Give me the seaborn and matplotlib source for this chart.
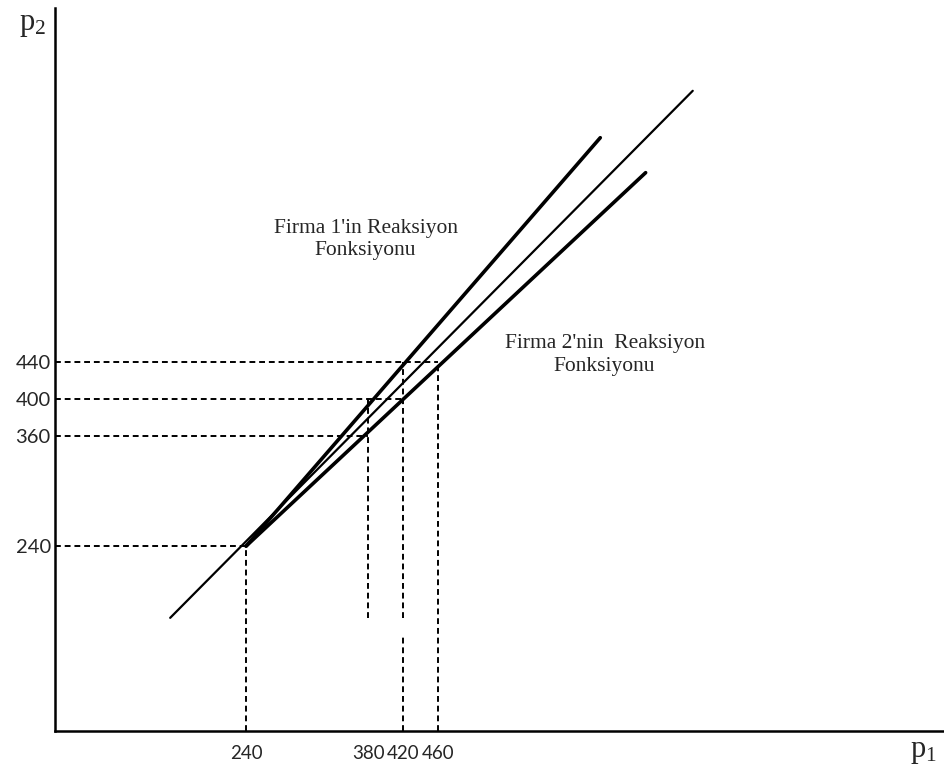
import matplotlib
matplotlib.use("Agg")
import matplotlib.pyplot as plt
import seaborn as sns

# eksen etiketleri
p1_ticks = [240, 380, 420, 460]
p2_ticks = [240, 360, 400, 440]

# reaksiyon fonksiyonlari ve 45 derece dogrusu (p1, p2 uc noktalari)
firm1_p1 = [240, 646]
firm1_p2 = [240, 684]
firm2_p1 = [240, 698]
firm2_p2 = [240, 646]
diag_p1 = [153, 752]
diag_p2 = [162, 735]

# kesikli yardimci cizgiler
h_level = [440, 400, 360, 240]   # p2 seviyesi
h_reach = [460, 420, 380, 240]   # p1'e kadar
v_pos = [240, 380, 420, 420, 460]
v_top = [240, 400, 440, 141, 440]
v_bottom = [None, 162, 162, None, None]

xmin, xmax = 21, 1040
ymin, ymax = 39, 825

sns.set_style("white")
fig = plt.figure(figsize=(9.44, 7.71), dpi=100)
ax = fig.add_axes([0.0583, 0.0519, 0.9417, 0.9377])

sns.lineplot(x=firm1_p1, y=firm1_p2, ax=ax, color="black", lw=2.6)
sns.lineplot(x=firm2_p1, y=firm2_p2, ax=ax, color="black", lw=2.6)
sns.lineplot(x=diag_p1, y=diag_p2, ax=ax, color="black", lw=1.6)

dash = dict(color="black", lw=1.4, linestyles=(0, (3, 2)))
ax.hlines(h_level, xmin, h_reach, **dash)
for x, top, bot in zip(v_pos, v_top, v_bottom):
    ax.vlines(x, ymin if bot is None else bot, top, **dash)

ax.set_xlim(xmin, xmax)
ax.set_ylim(ymin, ymax)
ax.set_xticks(p1_ticks)
ax.set_yticks(p2_ticks)
ax.set_xticklabels([str(v) for v in p1_ticks], family="Lato", fontsize=13.5)
ax.set_yticklabels([str(v) for v in p2_ticks], family="Lato", fontsize=14.5)
ax.tick_params(axis="x", length=0, pad=10)
ax.tick_params(axis="y", length=0, pad=3)

for s in ["top", "right"]:
    ax.spines[s].set_visible(False)
for s in ["left", "bottom"]:
    ax.spines[s].set_linewidth(1.8)
    ax.spines[s].set_color("black")

serif = "Liberation Serif"
ax.text(377, 573, "Firma 1'in Reaksiyon\nFonksiyonu", ha="center", va="center",
        family=serif, fontsize=15.5, linespacing=1.2)
ax.text(651, 448, "Firma 2'nin  Reaksiyon\nFonksiyonu", ha="center", va="center",
        family=serif, fontsize=15.5, linespacing=1.25)

fig.text(0.035, 0.968, r"$\mathregular{p_2}$", family=serif, fontsize=22,
         ha="center", va="center")
fig.text(0.978, 0.025, r"$\mathregular{p_1}$", family=serif, fontsize=22,
         ha="center", va="center")

fig.savefig("out.png", dpi=100)
